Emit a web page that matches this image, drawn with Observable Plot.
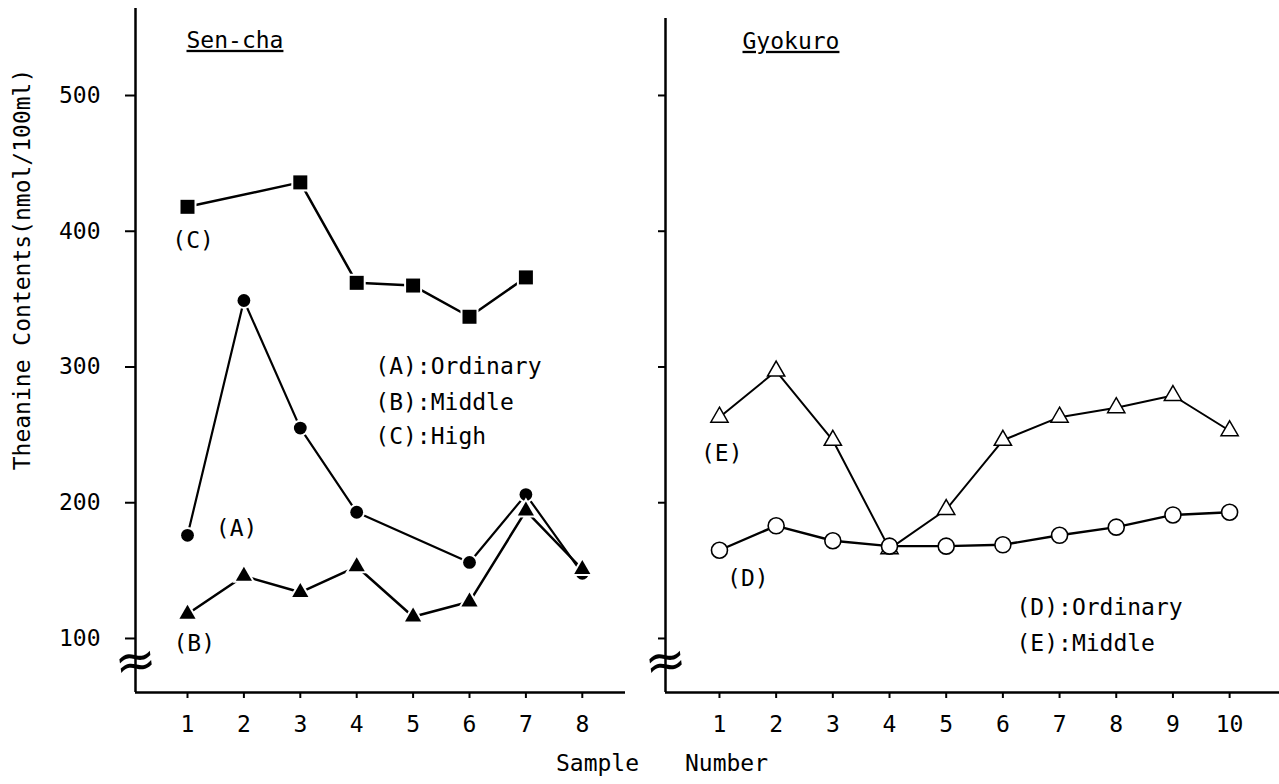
<!DOCTYPE html>
<html><head><meta charset="utf-8">
<script src="https://cdn.jsdelivr.net/npm/d3@7"></script>
<script src="https://cdn.jsdelivr.net/npm/@observablehq/plot@0.6"></script>
<style>
body{margin:0;background:#fff;}
#chart{position:relative;width:1279px;height:784px;overflow:hidden;background:#fff;}
#chart svg{position:absolute;top:0;overflow:visible;}
</style></head><body><div id="chart"></div>
<script>
// ---- data ----
const senchaSamples = [1, 2, 3, 4, 5, 6, 7, 8];
const senchaA_samples = [1, 2, 3, 4, 6, 7, 8];
const senchaA = [176, 349, 255, 193, 156, 206, 148];          // (A) Ordinary
const senchaB = [118, 146, 134, 153, 116, 127, 194, 151];     // (B) Middle
const senchaC_samples = [1, 3, 4, 5, 6, 7];
const senchaC = [418, 436, 362, 360, 337, 366];               // (C) High
const gyokuroSamples = [1, 2, 3, 4, 5, 6, 7, 8, 9, 10];
const gyokuroD = [165, 183, 172, 168, 168, 169, 176, 182, 191, 193]; // (D) Ordinary
const gyokuroE = [263, 297, 246, 166, 195, 246, 263, 270, 279, 253]; // (E) Middle
const yTicks = [100, 200, 300, 400, 500];

const yLabel = "Theanine Contents(nmol/100ml)";
const leftTitle = "Sen-cha";
const rightTitle = "Gyokuro";
const leftNotes = [
  {x: 1.1, y: 393, text: "(C)"},
  {x: 1.87, y: 181, text: "(A)"},
  {x: 1.12, y: 96, text: "(B)"}
];
const leftLegend = [
  {x: 4.33, y: 300, text: "(A):Ordinary"},
  {x: 4.33, y: 274, text: "(B):Middle"},
  {x: 4.33, y: 249, text: "(C):High"}
];
const rightNotes = [
  {x: 1.04, y: 236, text: "(E)"},
  {x: 1.5, y: 144, text: "(D)"}
];
const rightLegend = [
  {x: 6.24, y: 123, text: "(D):Ordinary"},
  {x: 6.24, y: 96, text: "(E):Middle"}
];
const breakValue = 83;

const FONT = "DejaVu Sans Mono";
const FS = 23;
const toRows = (xs, ys) => xs.map((s, i) => ({sample: s, value: ys[i]}));

const A = toRows(senchaA_samples, senchaA);
const B = toRows(senchaSamples, senchaB);
const C = toRows(senchaC_samples, senchaC);
const D = toRows(gyokuroSamples, gyokuroD);
const E = toRows(gyokuroSamples, gyokuroE);

const xDomL = [0.078, 8.766];
const yDomL = [60.2, 564.1];
const xDomR = [0.048, 10.88];
const yDomR = [60.2, 556.7];

const styleObj = {fontFamily: FONT, fontSize: FS + "px", background: "transparent", color: "black", overflow: "visible"};

function filled(data, symbol, r) {
  return Plot.dot(data, {x: "sample", y: "value", symbol: () => symbol, r, fill: "black", stroke: "white", strokeWidth: 4, paintOrder: "stroke"});
}
function breakMark(x0) {
  return Plot.text(["≈"], {x: x0, y: breakValue, fontSize: 50, fontFamily: "DejaVu Sans", rotate: -8, textAnchor: "middle"});
}

const left = Plot.plot({
  width: 640, height: 784,
  marginLeft: 135, marginRight: 15, marginTop: 8, marginBottom: 92,
  style: styleObj,
  x: {domain: xDomL, axis: null},
  y: {domain: yDomL, axis: null},
  marks: [
    Plot.axisY(yTicks, {tickSize: 10, tickPadding: 25, label: null, fontSize: FS, fontFamily: FONT, strokeWidth: 2}),
    Plot.axisX(senchaSamples, {tickSize: 6, tickPadding: 17, label: null, fontSize: FS, fontFamily: FONT, strokeWidth: 2}),
    Plot.ruleX([xDomL[0]], {strokeWidth: 2.5}),
    Plot.ruleY([yDomL[0]], {strokeWidth: 2.5}),
    breakMark(xDomL[0]),
    Plot.line(C, {x: "sample", y: "value", strokeWidth: 2.5}),
    Plot.line(A, {x: "sample", y: "value", strokeWidth: 2.2}),
    Plot.line(B, {x: "sample", y: "value", strokeWidth: 2.5}),
    filled(C, "square", 7.9),
    filled(A, "circle", 6.4),
    filled(B, "triangle", 6),
    Plot.text(leftNotes, {x: "x", y: "y", text: "text", fontSize: FS, fontFamily: FONT}),
    Plot.text(leftLegend, {x: "x", y: "y", text: "text", textAnchor: "start", fontSize: FS, fontFamily: FONT}),
    Plot.text([leftTitle], {frameAnchor: "top-left", dx: 51, dy: 23, textAnchor: "start", fontSize: FS, fontFamily: FONT}),
    Plot.text([yLabel], {frameAnchor: "left", dx: -113, dy: -81, rotate: -90, textAnchor: "middle", fontSize: FS, fontFamily: FONT}),
    Plot.text(["Sample"], {frameAnchor: "bottom-left", dx: 462, dy: 78, textAnchor: "middle", fontSize: FS, fontFamily: FONT})
  ]
});
left.style.left = "0px";

const right = Plot.plot({
  width: 639, height: 784,
  marginLeft: 25, marginRight: 0, marginTop: 18, marginBottom: 92,
  style: styleObj,
  x: {domain: xDomR, axis: null},
  y: {domain: yDomR, axis: null},
  marks: [
    Plot.axisY(yTicks, {tickSize: 7, tickFormat: () => "", label: null, strokeWidth: 2}),
    Plot.axisX(gyokuroSamples, {tickSize: 6, tickPadding: 17, label: null, fontSize: FS, fontFamily: FONT, strokeWidth: 2}),
    Plot.ruleX([xDomR[0]], {strokeWidth: 2.5}),
    Plot.ruleY([yDomR[0]], {strokeWidth: 2.5}),
    breakMark(xDomR[0]),
    Plot.line(E, {x: "sample", y: "value", strokeWidth: 2}),
    Plot.line(D, {x: "sample", y: "value", strokeWidth: 2.4}),
    Plot.dot(E, {x: "sample", y: "value", symbol: () => "triangle", r: 6.4, fill: "white", stroke: "black", strokeWidth: 1.5}),
    Plot.dot(D, {x: "sample", y: "value", symbol: () => "circle", r: 8, fill: "white", stroke: "black", strokeWidth: 1.6}),
    Plot.text(rightNotes, {x: "x", y: "y", text: "text", fontSize: FS, fontFamily: FONT}),
    Plot.text(rightLegend, {x: "x", y: "y", text: "text", textAnchor: "start", fontSize: FS, fontFamily: FONT}),
    Plot.text([rightTitle], {frameAnchor: "top-left", dx: 77, dy: 14, textAnchor: "start", fontSize: FS, fontFamily: FONT}),
    Plot.text(["Number"], {frameAnchor: "bottom-left", dx: 61, dy: 78, textAnchor: "middle", fontSize: FS, fontFamily: FONT})
  ]
});
right.style.left = "640px";

const chart = document.getElementById("chart");
chart.appendChild(left);
chart.appendChild(right);

for (const svg of [left, right]) {
  d3.select(svg).selectAll("text")
    .filter(function() { return this.textContent === leftTitle || this.textContent === rightTitle; })
    .attr("text-decoration", "underline");
}
</script></body></html>
